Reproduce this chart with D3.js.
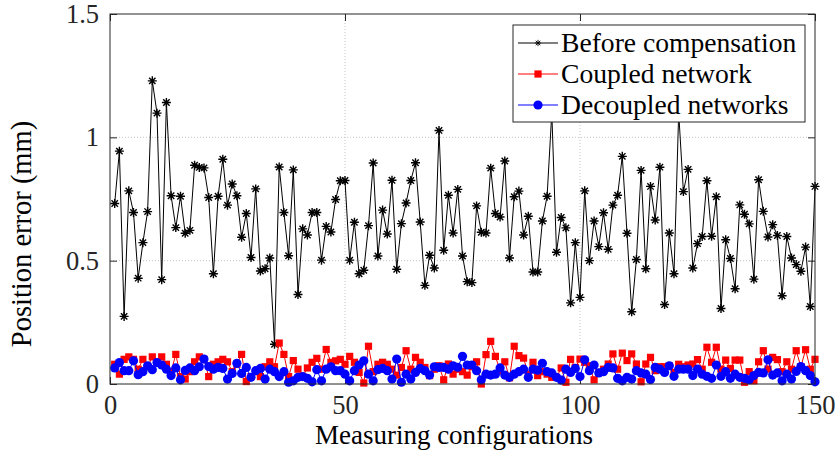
<!DOCTYPE html>
<html><head><meta charset="utf-8">
<script src="https://cdn.jsdelivr.net/npm/d3@7"></script>
<style>body{margin:0;background:#fff}svg{display:block}svg text{font-family:"Liberation Serif","Times New Roman",serif !important}</style>
</head><body><svg id="c" width="838" height="454"></svg>
<script>
const seriesNames = ["Before compensation","Coupled network","Decoupled networks"];
const xTicks = [0,50,100,150];
const yTicks = [0,0.5,1,1.5];
const yTickLabels = ["0","0.5","1","1.5"];
const xLabel = "Measuring configurations";
const yLabel = "Position error (mm)";

const before = [0.732,0.944,0.274,0.783,0.695,0.429,0.573,0.699,1.229,1.098,0.423,1.141,0.763,0.634,0.761,0.611,0.623,0.887,0.878,0.876,
0.756,0.447,0.761,0.911,0.725,0.811,0.763,0.595,0.691,0.513,0.791,0.458,0.467,0.511,0.161,0.880,0.695,0.520,0.868,0.363,
0.629,0.604,0.695,0.695,0.502,0.639,0.616,0.748,0.824,0.825,0.502,0.656,0.447,0.461,0.642,0.896,0.519,0.705,0.608,0.826,
0.465,0.650,0.734,0.825,0.897,0.657,0.400,0.522,0.470,1.028,0.542,0.765,0.612,0.789,0.519,0.415,0.411,0.722,0.615,0.612,
0.875,0.691,0.677,0.904,0.511,0.759,0.782,0.604,0.680,0.454,0.454,0.661,0.761,1.10,0.534,0.675,0.633,0.329,0.573,0.351,
0.783,0.500,0.661,0.557,0.694,0.546,0.725,0.765,0.923,0.611,0.293,0.505,0.866,0.467,0.801,0.665,0.879,0.322,0.612,0.447,
1.10,0.780,0.870,0.470,0.569,0.598,0.824,0.599,0.759,0.306,0.585,0.509,0.386,0.726,0.688,0.649,0.425,0.828,0.700,0.596,
0.646,0.602,0.358,0.598,0.511,0.484,0.457,0.555,0.314,0.801];

const coupled = [0.08,0.04,0.10,0.11,0.10,0.06,0.10,0.07,0.11,0.09,0.11,0.08,0.05,0.12,0.03,0.02,0.05,0.09,0.11,0.10,
0.03,0.08,0.09,0.10,0.09,0.05,0.08,0.12,0.01,0.03,0.05,0.03,0.07,0.09,0.07,0.166,0.12,0.03,0.095,0.06,
0.03,0.065,0.088,0.104,0.06,0.14,0.088,0.094,0.10,0.08,0.112,0.088,0.047,0.004,0.153,0.05,0.08,0.088,0.08,0.06,
0.036,0.067,0.135,0.06,0.108,0.088,0.067,0.034,0.06,0.074,0.017,0.081,0.04,0.06,0.05,0.036,0.07,0.09,0.0,0.119,
0.173,0.112,0.054,0.09,0.025,0.153,0.115,0.105,0.04,0.088,0.034,0.05,0.04,0.027,0.027,0.065,0.007,0.10,0.067,0.101,
0.088,0.074,0.017,0.047,0.06,0.081,0.122,0.06,0.125,0.095,0.122,0.081,0.009,0.081,0.108,0.054,0.07,0.07,0.074,0.047,
0.08,0.07,0.077,0.081,0.099,0.06,0.149,0.088,0.149,0.06,0.097,0.063,0.097,0.097,0.007,0.05,0.013,0.09,0.135,0.06,
0.108,0.099,0.05,0.09,0.06,0.135,0.07,0.139,0.06,0.10];

const decoupled = [0.065,0.087,0.054,0.054,0.094,0.038,0.05,0.074,0.058,0.087,0.077,0.06,0.034,0.065,0.017,0.055,0.065,0.054,0.07,0.101,
0.071,0.06,0.067,0.063,0.02,0.043,0.084,0.043,0.067,0.027,0.054,0.063,0.02,0.06,0.05,0.03,0.05,0.007,0.013,0.027,
0.03,0.023,0.009,0.058,0.013,0.06,0.07,0.054,0.054,0.04,0.013,0.054,0.077,0.094,0.04,0.013,0.058,0.063,0.054,0.02,
0.101,0.007,0.04,0.02,0.047,0.063,0.054,0.036,0.07,0.067,0.067,0.06,0.074,0.068,0.112,0.077,0.077,0.054,0.017,0.04,
0.036,0.04,0.065,0.036,0.027,0.04,0.05,0.06,0.027,0.06,0.056,0.084,0.05,0.045,0.027,0.016,0.06,0.047,0.063,0.03,
0.098,0.054,0.077,0.045,0.05,0.067,0.065,0.023,0.013,0.027,0.02,0.054,0.045,0.04,0.018,0.067,0.06,0.047,0.074,0.031,
0.06,0.06,0.06,0.034,0.06,0.04,0.031,0.023,0.077,0.031,0.05,0.023,0.04,0.027,0.023,0.017,0.034,0.047,0.045,0.098,
0.036,0.045,0.013,0.04,0.02,0.051,0.071,0.054,0.034,0.009];

const svg = d3.select("#c");
const L=110,R=815,T=14,B=384;
const x = d3.scaleLinear().domain([0,150]).range([L,R]);
const y = d3.scaleLinear().domain([0,1.5]).range([B,T]);
const fs = 26.5;
const serif = '"Liberation Serif","Times New Roman",serif';

// grid
const g = svg.append("g");
g.selectAll(".gx").data(xTicks.slice(1,-1)).join("line")
 .attr("x1",d=>x(d)).attr("x2",d=>x(d)).attr("y1",T).attr("y2",B)
 .attr("stroke","#c4c4c4").attr("stroke-width",1).attr("stroke-dasharray","1,2");
g.selectAll(".gy").data(yTicks.slice(1,-1)).join("line")
 .attr("x1",L).attr("x2",R).attr("y1",d=>y(d)).attr("y2",d=>y(d))
 .attr("stroke","#c4c4c4").attr("stroke-width",1).attr("stroke-dasharray","1,2");

function styleAxis(s){
  s.attr("font-family",serif).attr("font-size",fs);
  s.select(".domain").remove();
  s.selectAll("line").attr("stroke","#262626");
  s.selectAll("text").attr("fill","#262626").style("font-family",serif).style("font-size",fs+"px");
}
// axes with D3 axis generators
const ax = svg.append("g");
ax.append("g").attr("transform",`translate(0,${B})`)
 .call(d3.axisBottom(x).tickValues(xTicks).tickSize(-7).tickPadding(11).tickSizeOuter(0)).call(styleAxis);
ax.append("g").attr("transform",`translate(0,${T})`)
 .call(d3.axisTop(x).tickValues(xTicks).tickSize(-7).tickFormat("")).call(styleAxis);
ax.append("g").attr("transform",`translate(${L},0)`)
 .call(d3.axisLeft(y).tickValues(yTicks).tickFormat((d,i)=>yTickLabels[i]).tickSize(-7).tickPadding(11)).call(styleAxis);
ax.append("g").attr("transform",`translate(${R},0)`)
 .call(d3.axisRight(y).tickValues(yTicks).tickSize(-7).tickFormat("")).call(styleAxis);

// data
const idx = d3.range(1,151);
const line = d3.line().x((d,i)=>x(idx[i])).y(d=>y(d));
const star = "M-4.5,0H4.5M0,-4.5V4.5M-3.2,-3.2L3.2,3.2M-3.2,3.2L3.2,-3.2";
const plot = svg.append("g");
function drawSeries(data,color,kind){
  plot.append("path").datum(data).attr("d",line).attr("fill","none").attr("stroke",color).attr("stroke-width",1);
  const m = plot.append("g").selectAll("x").data(data).join(kind==="circle"?"circle":"path");
  if(kind==="star") m.attr("d",star).attr("transform",(d,i)=>`translate(${x(idx[i])},${y(d)})`).attr("stroke",color).attr("stroke-width",1.4).attr("fill","none");
  if(kind==="square") m.attr("d","M-3.6,-3.6H3.6V3.6H-3.6Z").attr("transform",(d,i)=>`translate(${x(idx[i])},${y(d)})`).attr("fill",color);
  if(kind==="circle") m.attr("cx",(d,i)=>x(idx[i])).attr("cy",d=>y(d)).attr("r",4.6).attr("fill",color);
}
drawSeries(before,"#000","star");
drawSeries(coupled,"#ff0000","square");
drawSeries(decoupled,"#0000ff","circle");

// box
svg.append("rect").attr("x",L).attr("y",T).attr("width",R-L).attr("height",B-T)
 .attr("fill","none").attr("stroke","#262626").attr("stroke-width",1);

// labels
svg.append("text").attr("x",454).attr("y",444).attr("text-anchor","middle").style("font-size","27px").attr("fill","#000").text(xLabel);
svg.append("text").attr("transform",`translate(31,234) rotate(-90)`).attr("text-anchor","middle").style("font-size","28.5px").attr("fill","#000").text(yLabel);

// legend
const lg = svg.append("g");
lg.append("rect").attr("x",513).attr("y",25).attr("width",292).attr("height",97).attr("fill","#fff").attr("stroke","#262626").attr("stroke-width",1);
const colors=["#000","#ff0000","#0000ff"], kinds=["star","square","circle"], rows=[43,74,105];
seriesNames.forEach((n,i)=>{
  const cy=rows[i];
  lg.append("line").attr("x1",518).attr("x2",558).attr("y1",cy).attr("y2",cy).attr("stroke",colors[i]).attr("stroke-width",1);
  if(kinds[i]==="star") lg.append("path").attr("d",star).attr("transform",`translate(538,${cy}) scale(0.7)`).attr("stroke",colors[i]).attr("fill","none").attr("stroke-width",1.3);
  if(kinds[i]==="square") lg.append("rect").attr("x",534.4).attr("y",cy-3.6).attr("width",7.2).attr("height",7.2).attr("fill",colors[i]);
  if(kinds[i]==="circle") lg.append("circle").attr("cx",538).attr("cy",cy).attr("r",4.6).attr("fill",colors[i]);
  lg.append("text").attr("x",561).attr("y",cy).attr("dy","0.33em").style("font-size","27.6px").attr("fill","#000").text(n);
});
</script></body></html>
